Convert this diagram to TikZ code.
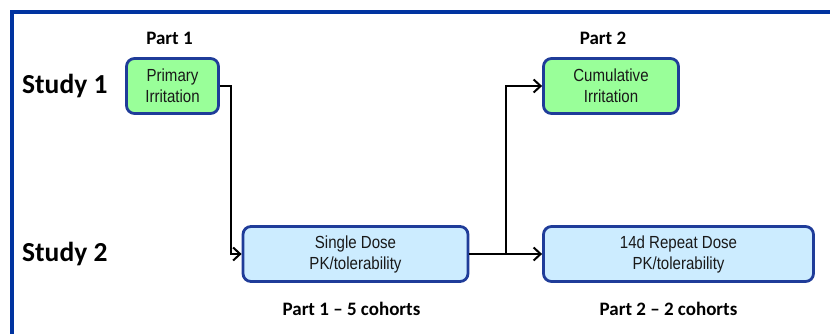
\documentclass[tikz,border=0pt]{standalone}
\usepackage{fontspec}
\setmainfont{Liberation Sans}
\newfontfamily\boxfont[FakeStretch=0.86]{Liberation Sans}
\newfontfamily\labelfont[Ligatures=TeX]{Carlito}
\usetikzlibrary{arrows.meta, positioning}
\definecolor{frameblue}{HTML}{0033A0}
\definecolor{boxblue}{HTML}{1F3C99}
\definecolor{lightgreen}{HTML}{99FF99}
\definecolor{lightblue}{HTML}{CCECFF}

\begin{document}
\begin{tikzpicture}[x=1pt,y=-1pt,node distance=48pt,on grid,>={Straight Barb[length=7pt,width=13pt]}]
    \tikzstyle{stage}=[shape=rectangle,rounded corners=8pt,draw=boxblue,line width=2.8pt,inner sep=0pt,minimum height=55pt,align=center,font=\boxfont\fontsize{17.5}{21}\selectfont,text=black!90]
    \tikzstyle{irrit}=[stage,fill=lightgreen]
    \tikzstyle{pk}=[stage,fill=lightblue]
    \tikzstyle{study}=[anchor=west,inner sep=0pt,font=\labelfont\bfseries\fontsize{27.5}{30}\selectfont]
    \tikzstyle{part}=[font=\labelfont\bfseries\fontsize{19}{22}\selectfont]

    \useasboundingbox (0,0) rectangle (830,334);
    \draw[frameblue,line width=3.2pt] (12,334) -- (12,12) -- (830,12);

    \node[study] (S1) at (22,86) {Study 1};
    \node[study] (S2) at (22,254) {Study 2};

    \node[irrit,minimum width=92pt] (PI) at (172.5,86) {Primary\\Irritation};
    \node[irrit,minimum width=135pt] (CI) at (611,86) {Cumulative\\Irritation};
    \node[pk,minimum width=225pt] (SD) at (355.5,254) {Single Dose\\PK/tolerability};
    \node[pk,minimum width=270pt] (RD) at (678.5,254) {14d Repeat Dose\\PK/tolerability};

    \node[part, above=48pt of PI, xshift=-3pt] (P1) {Part 1};
    \node[part, above=48pt of CI, xshift=-8pt] (P2) {Part 2};
    \node[part, below=55pt of SD, xshift=-4pt] (C1) {Part 1 -- 5 cohorts};
    \node[part, below=55pt of RD, xshift=-10pt] (C2) {Part 2 -- 2 cohorts};

    \coordinate[right=37pt of SD.east] (J);

    \draw[->,line width=2pt] (PI.east) -- ++(11.5,0) |- (SD.west);
    \draw[->,line width=2pt] (SD.east) -- (RD.west);
    \draw[->,line width=2pt] (J) |- (CI.west);

\end{tikzpicture}
\end{document}
